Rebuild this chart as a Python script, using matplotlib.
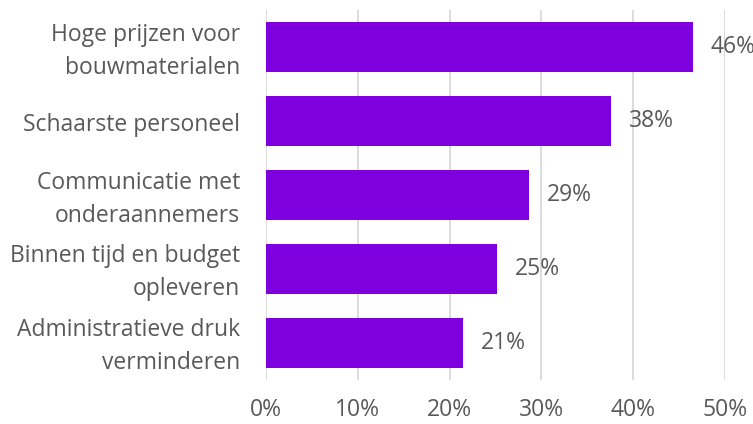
import matplotlib.pyplot as plt
from matplotlib.ticker import PercentFormatter
from matplotlib.transforms import offset_copy

# Data
categorieen = ['Hoge prijzen voor\nbouwmaterialen',
               'Schaarste personeel',
               'Communicatie met\nonderaannemers',
               'Binnen tijd en budget\nopleveren',
               'Administratieve druk\nverminderen']
waarden = [0.465, 0.376, 0.287, 0.252, 0.215]
labels = ['46%', '38%', '29%', '25%', '21%']

paars = '#7F00DF'
grijs = '#595959'

plt.rcParams['font.family'] = ['Open Sans', 'DejaVu Sans']

fig = plt.figure(figsize=(7.53, 4.24), dpi=100)
ax = fig.add_axes([0.3533, 0.104, 0.6095, 0.872])

y = list(range(len(categorieen)))
ax.barh(y, waarden, height=0.676, color=paars, zorder=3)

for yi, w, lab in zip(y, waarden, labels):
    ax.text(w + 0.019, yi, lab, va='center', ha='left', fontsize=16.5,
            color=grijs, clip_on=False)

# categorielabels zelf plaatsen (iets omlaag geschoven)
ax.set_yticks(y)
ax.set_yticklabels([])
trans = offset_copy(ax.get_yaxis_transform(), fig=fig, x=-26, y=-4,
                    units='dots')
for yi, cat in zip(y, categorieen):
    ax.text(0, yi, cat, transform=trans, ha='right', va='center',
            multialignment='right', fontsize=16.5, color=grijs,
            linespacing=1.5, clip_on=False)
ax.set_ylim(len(categorieen) - 0.5, -0.5)

ax.set_xlim(0, 0.5)
ax.set_xticks([0, 0.1, 0.2, 0.3, 0.4, 0.5])
ax.xaxis.set_major_formatter(PercentFormatter(1.0, decimals=0))
ax.tick_params(axis='x', colors=grijs, labelsize=16.5, length=0, pad=13)
ax.tick_params(axis='y', length=0)
ax.grid(axis='x', color='#D9D9D9', linewidth=1.3, zorder=0)

for s in ax.spines.values():
    s.set_visible(False)

fig.savefig('out.png', dpi=100)
